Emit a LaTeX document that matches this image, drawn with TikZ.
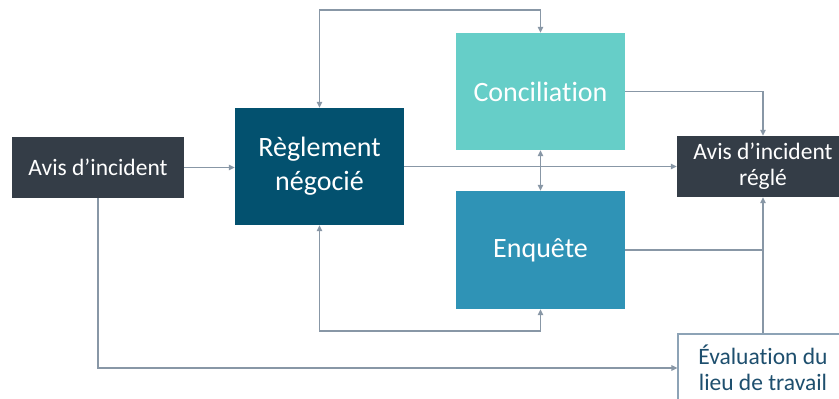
\documentclass[tikz,border=0pt]{standalone}
\usepackage{fontspec}
\setmainfont[Ligatures=NoCommon]{Carlito}
\usetikzlibrary{arrows.meta}
\definecolor{darkbox}{HTML}{343D47}
\definecolor{reglc}{HTML}{03516F}
\definecolor{concc}{HTML}{66CEC8}
\definecolor{enqc}{HTML}{2F93B6}
\definecolor{linec}{HTML}{8897A6}
\definecolor{evalb}{HTML}{8DA3B6}
\definecolor{evalt}{HTML}{1E4F6E}
\tikzset{
  x=1pt, y=-1pt,
  boxbase/.style={inner sep=0pt, align=center, text=white},
  smallbox/.style={boxbase, font=\fontsize{23.5}{26}\selectfont},
  bigbox/.style={boxbase, minimum width=169pt, font=\fontsize{28}{34}\selectfont},
  conn/.style={draw=linec, line width=1.1pt},
  arr/.style={conn, -{Triangle[width=5.5pt,length=6pt]}},
  arrboth/.style={conn, {Triangle[width=5.5pt,length=6pt]}-{Triangle[width=5.5pt,length=6pt]}},
}
\begin{document}
\begin{tikzpicture}
\clip (0,0) rectangle (839,399);
\fill[white] (0,0) rectangle (839,399);
\node[smallbox, fill=darkbox, minimum width=172pt, minimum height=61pt] (avis) at (98,167.5) {Avis d’incident};
\node[bigbox, fill=reglc, minimum height=117pt] (regl) at (319.5,166.5) {Règlement\\négocié};
\node[bigbox, fill=concc, minimum height=117pt] (conc) at (540.5,91.5) {Conciliation};
\node[bigbox, fill=enqc, minimum height=118pt] (enq) at (540.5,250) {Enquête};
\node[smallbox, fill=darkbox, minimum width=172pt, minimum height=61pt] (regle) at (763,166.5) {Avis d’incident\\réglé};
\node[smallbox, text=evalt, fill=white, draw=evalb, line width=1.1pt, minimum width=170pt, minimum height=68pt] (eval) at (763,368) {Évaluation du\\lieu de travail};
\coordinate (top) at (0,10);
\coordinate (bot) at (0,331);
\draw[arr] (avis.east) -- (avis.east -| regl.west);
\draw[arrboth] (regl.north) -- (regl.north |- top) -| (conc.north);
\draw[arr] (regl.east) -- (regl.east -| regle.west);
\draw[arrboth] (conc.south) -- (enq.north);
\draw[arr] (conc.east) -| (regle.north);
\draw[arr] (eval.north) -- (regle.south);
\draw[conn] (enq.east) -- (enq.east -| eval.north);
\draw[arrboth] (regl.south) -- (regl.south |- bot) -| (enq.south);
\draw[arr] (avis.south) |- (eval.west);
\end{tikzpicture}
\end{document}
